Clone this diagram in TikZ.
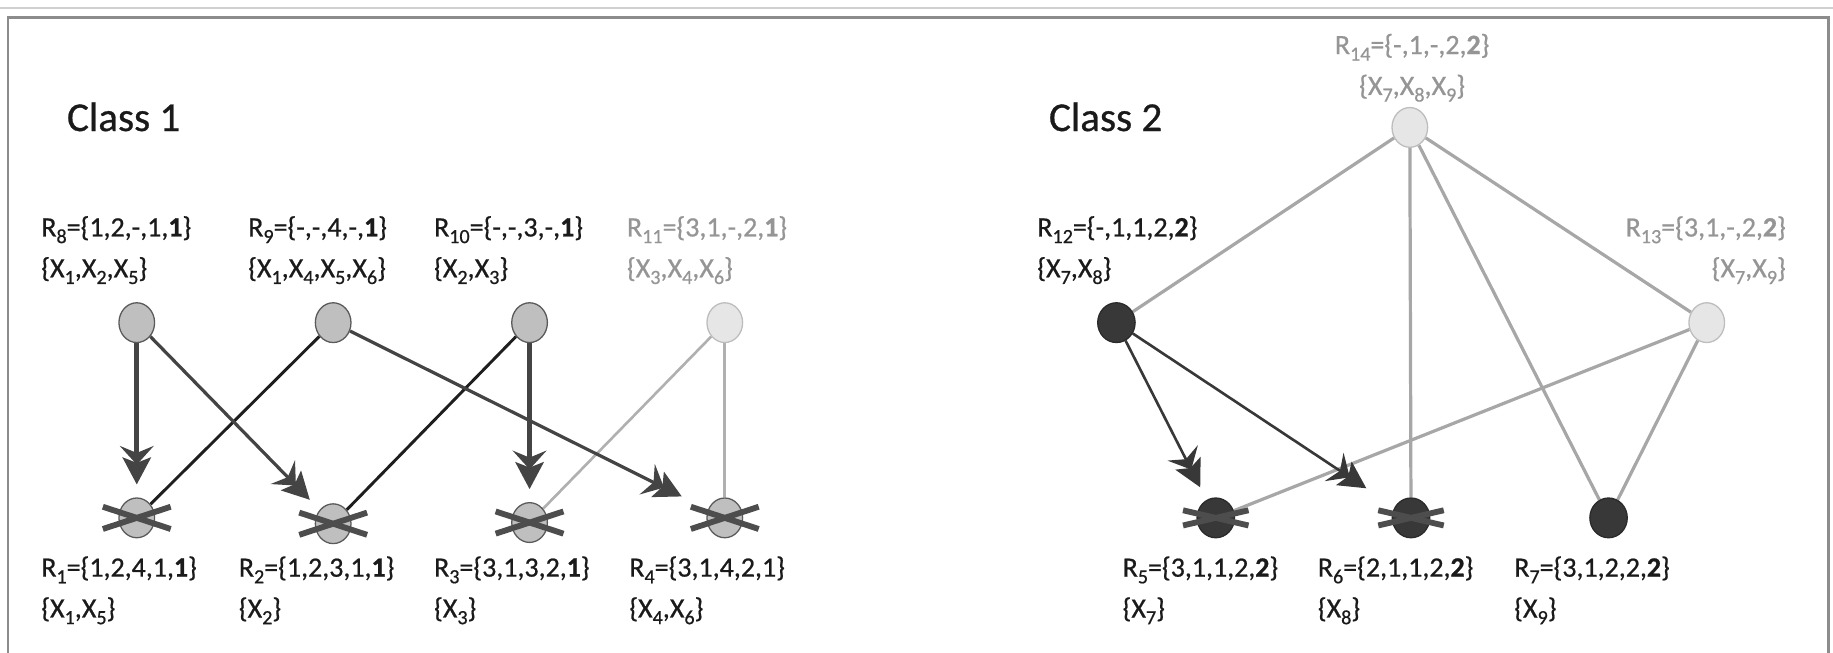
\documentclass[tikz,border=0pt]{standalone}
\usepackage{fontspec}
\setmainfont{Carlito}[UprightFeatures={FakeBold=0.7},BoldFeatures={FakeBold=0.9}]
\usetikzlibrary{arrows.meta,shapes.geometric,backgrounds}
\definecolor{midfill}{HTML}{BFBFBF}
\definecolor{midborder}{HTML}{5A5A5A}
\definecolor{lightfill}{HTML}{E6E6E6}
\definecolor{lightborder}{HTML}{BDBDBD}
\definecolor{darkfill}{HTML}{383838}
\definecolor{darkborder}{HTML}{2A2A2A}
\definecolor{labdark}{HTML}{1A1A1A}
\definecolor{labgray}{HTML}{959595}
\definecolor{arrowdark}{HTML}{444444}
\definecolor{linedark}{HTML}{1E1E1E}
\definecolor{linegray}{HTML}{B0B0B0}
\definecolor{crossgray}{HTML}{4D4D4D}
\definecolor{framegray}{HTML}{8C8C8C}
\definecolor{framelight}{HTML}{CFCFCF}
\newcommand\sbs[1]{\raisebox{-0.5ex}{\fontsize{9.8pt}{10pt}\selectfont #1}}
\begin{document}
\begin{tikzpicture}[x=0.2mm,y=-0.2mm,
  midnode/.style={ellipse, draw=midborder, fill=midfill, line width=0.22mm,
    minimum width=6.1mm, minimum height=6.8mm, inner sep=0pt},
  lightnode/.style={midnode, draw=lightborder, fill=lightfill},
  darknode/.style={midnode, draw=darkborder, fill=darkfill, minimum width=6.4mm},
  lab/.style={inner sep=0pt, font=\fontsize{13.6pt}{19.9pt}\selectfont, text=labdark},
  labg/.style={lab, text=labgray},
  classlab/.style={inner sep=0pt, font=\fontsize{20pt}{24pt}\selectfont, text=labdark, anchor=west},
  barb/.tip={Stealth[length=3.2mm,width=5.8mm,inset=1.2mm,sep=-1.2mm] Stealth[length=4.6mm,width=4.8mm,inset=0.9mm]},
  bigarrow/.style={draw=arrowdark, line width=0.85mm, -{barb}},
  midarrow/.style={draw=arrowdark, line width=0.55mm, -{barb}},
  thinarrow/.style={draw=darkfill, line width=0.45mm, -{barb}},
  blackline/.style={draw=linedark, line width=0.5mm},
  grayline/.style={draw=linegray, line width=0.45mm},
  grayline2/.style={draw=linegray!95!black, line width=0.55mm},
  crossln/.style={draw=crossgray, line width=1mm}
]
\useasboundingbox (0,0) rectangle (1568,558);
% frame
\draw[framelight, line width=0.3mm] (0,7) -- (1568,7);
\draw[framegray, line width=0.4mm] (7,600) -- (7,15) -- (1564,15) -- (1564,600);

% class labels
\node[classlab] (C1) at (57,100) {Class 1};
\node[classlab] (C2) at (897,100) {Class 2};

% class 1 nodes
\node[midnode] (R8) at (117,276) {};
\node[midnode] (R9) at (285,276) {};
\node[midnode] (R10) at (453,276) {};
\node[lightnode] (R11) at (620,276) {};
\node[midnode] (R1) at (117,443) {};
\node[midnode] (R2) at (285,448) {};
\node[midnode] (R3) at (453,447) {};
\node[midnode] (R4) at (620,443) {};

% class 2 nodes
\node[lightnode] (R14) at (1206,109) {};
\node[darknode] (R12) at (955,276) {};
\node[lightnode] (R13) at (1460,276) {};
\node[darknode] (R5) at (1040,443) {};
\node[darknode] (R6) at (1207,443) {};
\node[darknode] (R7) at (1376,443) {};

% labels class 1
\node[lab, anchor=west, align=left] (L8) at (35,214) {R\sbs{8}=\{1,2,-,1,\textbf{1}\}\\\{X\sbs{1},X\sbs{2},X\sbs{5}\}};
\node[lab, anchor=west, align=left] (L9) at (212,214) {R\sbs{9}=\{-,-,4,-,\textbf{1}\}\\\{X\sbs{1},X\sbs{4},X\sbs{5},X\sbs{6}\}};
\node[lab, anchor=west, align=left] (L10) at (371,214) {R\sbs{10}=\{-,-,3,-,\textbf{1}\}\\\{X\sbs{2},X\sbs{3}\}};
\node[labg, anchor=west, align=left] (L11) at (536,214) {R\sbs{11}=\{3,1,-,2,\textbf{1}\}\\\{X\sbs{3},X\sbs{4},X\sbs{6}\}};
\node[lab, anchor=west, align=left] (L1) at (35,505) {R\sbs{1}=\{1,2,4,1,\textbf{1}\}\\\{X\sbs{1},X\sbs{5}\}};
\node[lab, anchor=west, align=left] (L2) at (204,505) {R\sbs{2}=\{1,2,3,1,\textbf{1}\}\\\{X\sbs{2}\}};
\node[lab, anchor=west, align=left] (L3) at (371,505) {R\sbs{3}=\{3,1,3,2,\textbf{1}\}\\\{X\sbs{3}\}};
\node[lab, anchor=west, align=left] (L4) at (538,505) {R\sbs{4}=\{3,1,4,2,1\}\\\{X\sbs{4},X\sbs{6}\}};

% labels class 2
\node[labg, align=center] (L14) at (1208,58) {R\sbs{14}=\{-,1,-,2,\textbf{2}\}\\\{X\sbs{7},X\sbs{8},X\sbs{9}\}};
\node[lab, anchor=west, align=left] (L12) at (887,214) {R\sbs{12}=\{-,1,1,2,\textbf{2}\}\\\{X\sbs{7},X\sbs{8}\}};
\node[labg, anchor=east, align=right] (L13) at (1528,214) {R\sbs{13}=\{3,1,-,2,\textbf{2}\}\\\{X\sbs{7},X\sbs{9}\}};
\node[lab, anchor=west, align=left] (L5) at (960,505) {R\sbs{5}=\{3,1,1,2,\textbf{2}\}\\\{X\sbs{7}\}};
\node[lab, anchor=west, align=left] (L6) at (1127,505) {R\sbs{6}=\{2,1,1,2,\textbf{2}\}\\\{X\sbs{8}\}};
\node[lab, anchor=west, align=left] (L7) at (1295,505) {R\sbs{7}=\{3,1,2,2,\textbf{2}\}\\\{X\sbs{9}\}};

% edges behind nodes
\begin{scope}[on background layer]
  \draw[grayline] (R11) -- (R3);
  \draw[grayline] (R11) -- (R4);
  \draw[blackline] (R9) -- (R1);
  \draw[blackline] (R10) -- (R2);
  \draw[bigarrow, shorten >=2.2mm] (R8) -- (R1);
  \draw[bigarrow, shorten >=2.2mm] (R10) -- (R3);
  \draw[midarrow, shorten >=2.4mm] (R8) -- (R2);
  \draw[midarrow, shorten >=5mm] (R9) -- (R4);

  \draw[grayline2] (R14) -- (R12);
  \draw[grayline2] (R14) -- (R6);
  \draw[grayline2] (R14) -- (R7);
  \draw[grayline2] (R14) -- (R13);
  \draw[grayline2] (R13) -- (R5);
  \draw[grayline2] (R13) -- (R7);
  \draw[thinarrow, shorten >=2.4mm] (R12) -- (R5);
  \draw[thinarrow, shorten >=5.8mm] (R12) -- (R6);
\end{scope}

% crosses
\foreach \n in {R1,R2,R3,R4}{
  \draw[crossln] ([shift={(-29,-9.5)}]\n.center) -- ([shift={(29,9.5)}]\n.center);
  \draw[crossln] ([shift={(-29,9.5)}]\n.center) -- ([shift={(29,-9.5)}]\n.center);
}
\foreach \n in {R5,R6}{
  \draw[crossln] ([shift={(-28,-6.5)}]\n.center) -- ([shift={(28,6.5)}]\n.center);
  \draw[crossln] ([shift={(-28,6.5)}]\n.center) -- ([shift={(28,-6.5)}]\n.center);
}
\end{tikzpicture}
\end{document}
